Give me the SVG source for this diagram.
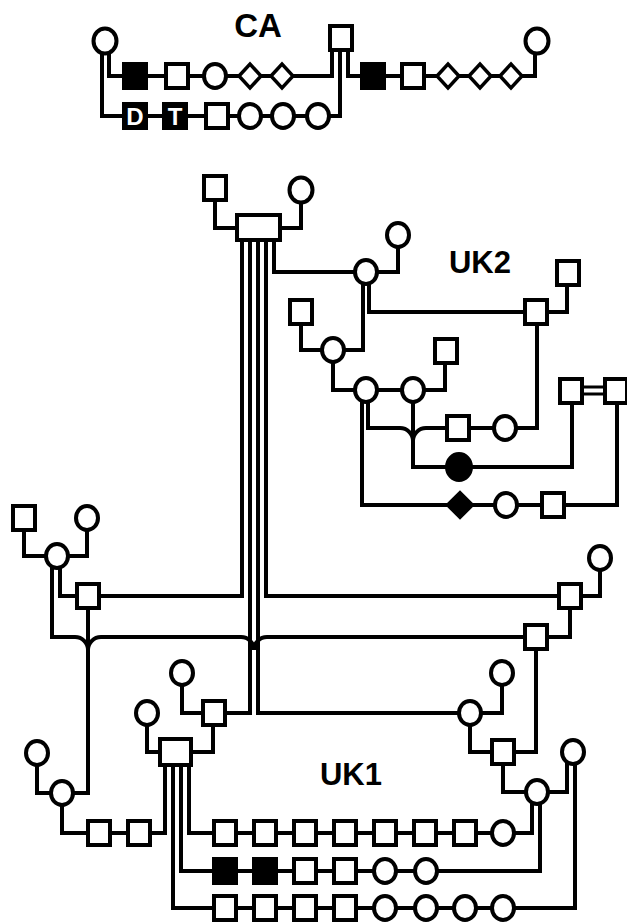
<svg xmlns="http://www.w3.org/2000/svg" width="627" height="923" viewBox="0 0 627 923">
<style>
.l{fill:none;stroke:#000;stroke-width:4}
.d{fill:none;stroke:#000;stroke-width:3}
.n{fill:#fff;stroke:#000;stroke-width:4}
.f{fill:#000;stroke:#000;stroke-width:4}
.dm{fill:#fff;stroke:#000;stroke-width:3.5}
.lab{font-family:"Liberation Sans",Arial,sans-serif;font-weight:bold;font-size:31px;fill:#000;text-anchor:middle}
.in{font-family:"Liberation Sans",Arial,sans-serif;font-weight:bold;font-size:24px;fill:#fff;text-anchor:middle}
</style>
<rect width="627" height="923" fill="#fff"/>
<g id="connectors">
<path class="l" d="M102,41 V116 H340 V38"/>
<path class="l" d="M109,41 V76 H332 V38"/>
<path class="l" d="M348,38 V76 H535 V41"/>
<path class="l" d="M215,188 V228 H258"/>
<path class="l" d="M301,190 V228 H258"/>
<path class="l" d="M242,228 V596 H88"/>
<path class="l" d="M88,596 V793 H62"/>
<path class="l" d="M250,228 V713 H214"/>
<path class="l" d="M258,228 V713 H470"/>
<path class="l" d="M266,228 V596 H570"/>
<path class="l" d="M274,228 V272 H366"/>
<path class="l" d="M24,518 V556 H87 V518"/>
<path class="l" d="M60,556 V596 H88"/>
<path class="l" d="M52,556 V637 H75 A13,13 0 0 1 88,650 A13,13 0 0 1 101,637 H241 A13,13 0 0 1 254,650 A13,13 0 0 1 267,637 H536"/>
<path class="l" d="M600,558 V596 H570"/>
<path class="l" d="M570,596 V637 H536"/>
<path class="l" d="M536,637 V752 H503"/>
<path class="l" d="M502,673 V713 H470"/>
<path class="l" d="M470,713 V752 H503"/>
<path class="l" d="M503,752 V792 H537"/>
<path class="l" d="M567,752 V792 H537"/>
<path class="l" d="M532,792 V833 H189 V752"/>
<path class="l" d="M540,792 V871 H181 V752"/>
<path class="l" d="M575,752 V908 H173 V752"/>
<path class="l" d="M62,793 V833 H165 V752"/>
<path class="l" d="M182,673 V713 H214"/>
<path class="l" d="M147,713 V752 H176"/>
<path class="l" d="M213,713 V752 H176"/>
<path class="l" d="M37,753 V793 H62"/>
<path class="l" d="M398,235 V272 H366"/>
<path class="l" d="M369,272 V312 H536"/>
<path class="l" d="M567,273 V312 H536"/>
<path class="l" d="M363,272 V350 H333"/>
<path class="l" d="M301,312 V350 H333"/>
<path class="l" d="M333,350 V390 H413"/>
<path class="l" d="M413,390 H445 V351"/>
<path class="l" d="M368,390 V428 H400 A13,13 0 0 1 413,441 A13,13 0 0 1 426,428 H537 V312"/>
<path class="l" d="M413,390 V467 H572 V391"/>
<path class="l" d="M362,390 V505 H617 V391"/>
<path class="d" d="M571,387 H616 M571,394 H616"/>
</g>
<!-- CA -->
<g id="ca-label"><text class="lab" x="258" y="37" style="font-size:33px">CA</text></g>
<g id="ca-m1"><ellipse class="n" cx="105" cy="41" rx="11.5" ry="12.5"/></g>
<g id="ca-m2"><ellipse class="n" cx="537" cy="41" rx="11.5" ry="12.5"/></g>
<g id="ca-f"><rect class="n" x="330" y="26" width="22" height="24"/></g>
<g id="ca-a1"><rect class="f" x="124" y="64" width="22" height="24"/></g>
<g id="ca-a2"><rect class="n" x="166" y="64" width="22" height="24"/></g>
<g id="ca-a3"><ellipse class="n" cx="215" cy="76" rx="11" ry="12"/></g>
<g id="ca-a4"><polygon class="dm" points="239,76 250,64 261,76 250,88"/></g>
<g id="ca-a5"><polygon class="dm" points="271,76 282,64 293,76 282,88"/></g>
<g id="ca-b1"><rect class="f" x="124" y="104" width="22" height="24"/><text class="in" x="135" y="125">D</text></g>
<g id="ca-b2"><rect class="f" x="164" y="104" width="22" height="24"/><text class="in" x="175" y="125">T</text></g>
<g id="ca-b3"><rect class="n" x="206" y="104" width="22" height="24"/></g>
<g id="ca-b4"><ellipse class="n" cx="250" cy="116" rx="11" ry="12"/></g>
<g id="ca-b5"><ellipse class="n" cx="283" cy="116" rx="11" ry="12"/></g>
<g id="ca-b6"><ellipse class="n" cx="318" cy="116" rx="11" ry="12"/></g>
<g id="ca-c1"><rect class="f" x="362" y="64" width="22" height="24"/></g>
<g id="ca-c2"><rect class="n" x="402" y="64" width="22" height="24"/></g>
<g id="ca-c3"><polygon class="dm" points="437,76 448,64 459,76 448,88"/></g>
<g id="ca-c4"><polygon class="dm" points="469,76 480,64 491,76 480,88"/></g>
<g id="ca-c5"><polygon class="dm" points="500,76 511,64 522,76 511,88"/></g>
<!-- top -->
<g id="top-f"><rect class="n" x="204" y="176" width="22" height="24"/></g>
<g id="top-m"><ellipse class="n" cx="301" cy="190" rx="11.5" ry="12.5"/></g>
<g id="top-sib"><rect class="n" x="237" y="215" width="43" height="25"/></g>
<!-- UK2 -->
<g id="uk2-label"><text class="lab" x="480" y="273">UK2</text></g>
<g id="uk2-1"><ellipse class="n" cx="366" cy="272" rx="11" ry="12"/></g>
<g id="uk2-2"><ellipse class="n" cx="398" cy="235" rx="11" ry="12"/></g>
<g id="uk2-3"><rect class="n" x="557" y="261" width="22" height="24"/></g>
<g id="uk2-4"><rect class="n" x="525" y="300" width="22" height="24"/></g>
<g id="uk2-5"><rect class="n" x="290" y="300" width="22" height="24"/></g>
<g id="uk2-6"><ellipse class="n" cx="333" cy="350" rx="11" ry="12"/></g>
<g id="uk2-7"><ellipse class="n" cx="366" cy="390" rx="11" ry="12"/></g>
<g id="uk2-8"><ellipse class="n" cx="413" cy="390" rx="11" ry="12"/></g>
<g id="uk2-9"><rect class="n" x="435" y="339" width="22" height="24"/></g>
<g id="uk2-10"><rect class="n" x="447" y="416" width="22" height="24"/></g>
<g id="uk2-11"><ellipse class="n" cx="505" cy="428" rx="11" ry="12"/></g>
<g id="uk2-12"><ellipse class="f" cx="459" cy="467" rx="12" ry="13"/></g>
<g id="uk2-13"><rect class="n" x="560" y="379" width="22" height="24"/></g>
<g id="uk2-14"><rect class="n" x="605" y="379" width="22" height="24"/></g>
<g id="uk2-15"><polygon class="f" points="448,505 460,493 472,505 460,517"/></g>
<g id="uk2-16"><ellipse class="n" cx="506" cy="505" rx="11" ry="12"/></g>
<g id="uk2-17"><rect class="n" x="542" y="493" width="22" height="24"/></g>
<!-- UK1 -->
<g id="uk1-label"><text class="lab" x="351" y="785">UK1</text></g>
<g id="uk1-l1"><rect class="n" x="13" y="506" width="22" height="24"/></g>
<g id="uk1-l2"><ellipse class="n" cx="87" cy="518" rx="11" ry="12"/></g>
<g id="uk1-l3"><ellipse class="n" cx="57" cy="556" rx="11" ry="12"/></g>
<g id="uk1-l4"><rect class="n" x="77" y="584" width="22" height="24"/></g>
<g id="uk1-r1"><rect class="n" x="559" y="584" width="22" height="24"/></g>
<g id="uk1-r2"><ellipse class="n" cx="600" cy="558" rx="11" ry="12"/></g>
<g id="uk1-r3"><rect class="n" x="525" y="625" width="22" height="24"/></g>
<g id="uk1-r4"><ellipse class="n" cx="502" cy="673" rx="11" ry="12"/></g>
<g id="uk1-r5"><ellipse class="n" cx="470" cy="713" rx="11" ry="12"/></g>
<g id="uk1-r6"><rect class="n" x="492" y="740" width="22" height="24"/></g>
<g id="uk1-r7"><ellipse class="n" cx="573" cy="752" rx="11" ry="12"/></g>
<g id="uk1-r8"><ellipse class="n" cx="537" cy="792" rx="11" ry="12"/></g>
<g id="uk1-m1"><ellipse class="n" cx="182" cy="673" rx="11" ry="12"/></g>
<g id="uk1-m2"><rect class="n" x="203" y="701" width="22" height="24"/></g>
<g id="uk1-m3"><ellipse class="n" cx="147" cy="713" rx="11" ry="12"/></g>
<g id="uk1-m4"><rect class="n" x="160" y="739" width="31" height="26"/></g>
<g id="uk1-m5"><ellipse class="n" cx="37" cy="753" rx="11" ry="12"/></g>
<g id="uk1-m6"><ellipse class="n" cx="62" cy="793" rx="11" ry="12"/></g>
<g id="uk1-a">
<rect class="n" x="88" y="821" width="22" height="24"/>
<rect class="n" x="128" y="821" width="22" height="24"/>
<rect class="n" x="214" y="821" width="22" height="24"/>
<rect class="n" x="254" y="821" width="22" height="24"/>
<rect class="n" x="294" y="821" width="22" height="24"/>
<rect class="n" x="334" y="821" width="22" height="24"/>
<rect class="n" x="374" y="821" width="22" height="24"/>
<rect class="n" x="414" y="821" width="22" height="24"/>
<rect class="n" x="454" y="821" width="22" height="24"/>
<ellipse class="n" cx="503" cy="833" rx="11" ry="12"/>
</g>
<g id="uk1-b">
<rect class="f" x="214" y="859" width="22" height="24"/>
<rect class="f" x="254" y="859" width="22" height="24"/>
<rect class="n" x="294" y="859" width="22" height="24"/>
<rect class="n" x="334" y="859" width="22" height="24"/>
<ellipse class="n" cx="385" cy="871" rx="11" ry="12"/>
<ellipse class="n" cx="426" cy="871" rx="11" ry="12"/>
</g>
<g id="uk1-c">
<rect class="n" x="214" y="896" width="22" height="24"/>
<rect class="n" x="254" y="896" width="22" height="24"/>
<rect class="n" x="294" y="896" width="22" height="24"/>
<rect class="n" x="334" y="896" width="22" height="24"/>
<ellipse class="n" cx="385" cy="908" rx="11" ry="12"/>
<ellipse class="n" cx="426" cy="908" rx="11" ry="12"/>
<ellipse class="n" cx="465" cy="908" rx="11" ry="12"/>
<ellipse class="n" cx="503" cy="908" rx="11" ry="12"/>
</g>
</svg>
